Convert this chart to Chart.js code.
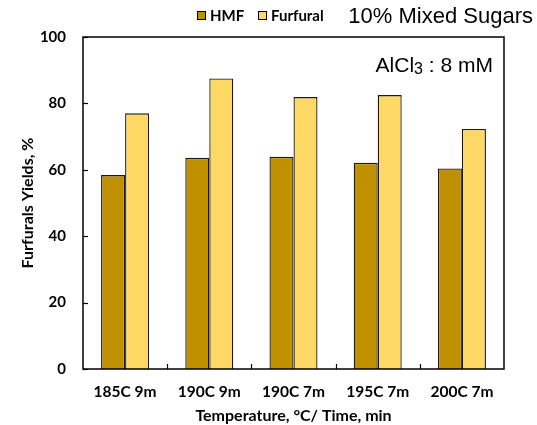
<!DOCTYPE html>
<html>
<head>
<meta charset="utf-8">
<script src="https://cdn.jsdelivr.net/npm/chart.js@4/dist/chart.umd.min.js"></script>
<style>
  html, body { margin: 0; padding: 0; background: #fff; }
  #wrap { width: 537px; height: 425px; position: relative; }
</style>
</head>
<body>
<div id="wrap"><canvas id="c" width="537" height="425"></canvas></div>
<script>
// Reaction conditions and furanic yields (%)
const categories = ['185C 9m', '190C 9m', '190C 7m', '195C 7m', '200C 7m'];
const hmfYield = [58.4, 63.6, 63.9, 62.1, 60.4];
const furfuralYield = [77.0, 87.5, 81.9, 82.5, 72.3];
const seriesNames = ['HMF', 'Furfural'];
const yTicks = [0, 20, 40, 60, 80, 100];

const boldFont = 'Lato, "Open Sans", sans-serif';

// Frame, inward tick marks, legend and annotations
const decor = {
  id: 'decor',
  afterDraw(chart) {
    const { ctx, chartArea: a, scales } = chart;
    ctx.save();
    ctx.strokeStyle = '#000';
    ctx.lineWidth = 1.5;
    ctx.strokeRect(a.left, a.top, a.right - a.left, a.bottom - a.top);

    ctx.lineWidth = 1.2;
    // y ticks pointing inward
    yTicks.forEach(v => {
      const y = Math.round(scales.y.getPixelForValue(v)) + 0.5;
      ctx.beginPath();
      ctx.moveTo(a.left, y);
      ctx.lineTo(a.left + 5, y);
      ctx.stroke();
    });
    // x ticks between categories, pointing inward
    for (let i = 1; i < categories.length; i++) {
      const x = Math.round((scales.x.getPixelForValue(i - 1) + scales.x.getPixelForValue(i)) / 2) + 0.5;
      ctx.beginPath();
      ctx.moveTo(x, a.bottom);
      ctx.lineTo(x, a.bottom - 5);
      ctx.stroke();
    }

    // legend
    ctx.font = 'bold 15px ' + boldFont;
    ctx.textBaseline = 'middle';
    const legendPos = [{ box: 197, text: 210 }, { box: 258, text: 271 }];
    chart.data.datasets.forEach((ds, i) => {
      const p = legendPos[i];
      ctx.fillStyle = ds.backgroundColor;
      ctx.fillRect(p.box, 11, 9, 9);
      ctx.lineWidth = 1;
      ctx.strokeStyle = '#000';
      ctx.strokeRect(p.box + 0.5, 11.5, 8, 8);
      ctx.fillStyle = '#000';
      ctx.textAlign = 'left';
      ctx.fillText(ds.label, p.text, 16);
    });

    // chart heading
    ctx.font = '22px "Liberation Sans", Arial, sans-serif';
    ctx.textAlign = 'right';
    ctx.fillText('10% Mixed Sugars', 533, 17);

    // catalyst note
    const mainFont = '21px "Liberation Sans", Arial, sans-serif';
    ctx.font = mainFont;
    const tailTxt = ' : 8 mM';
    const tailW = ctx.measureText(tailTxt).width;
    const xEnd = 493;
    ctx.fillText(tailTxt, xEnd, 66);
    ctx.font = '16px "Liberation Sans", Arial, sans-serif';
    const subW = ctx.measureText('3').width;
    ctx.fillText('3', xEnd - tailW, 70);
    ctx.font = mainFont;
    ctx.fillText('AlCl', xEnd - tailW - subW, 66);
    ctx.restore();
  }
};

new Chart(document.getElementById('c'), {
  type: 'bar',
  data: {
    labels: categories,
    datasets: [
      { label: seriesNames[0], data: hmfYield, backgroundColor: '#BF9000', borderColor: '#1a1a1a', borderWidth: 1.3 },
      { label: seriesNames[1], data: furfuralYield, backgroundColor: '#FFD966', borderColor: '#1a1a1a', borderWidth: 1.3 }
    ]
  },
  options: {
    responsive: false,
    animation: false,
    devicePixelRatio: 1,
    layout: { padding: { left: 0, right: 33, top: 37, bottom: 0 } },
    plugins: { legend: { display: false }, tooltip: { enabled: false } },
    datasets: { bar: { categoryPercentage: 0.57, barPercentage: 1.0 } },
    scales: {
      x: {
        grid: { display: false, drawTicks: false },
        border: { display: false },
        ticks: { color: '#000', font: { family: boldFont, size: 15.5, weight: 'bold' }, padding: 14, maxRotation: 0 },
        title: { display: true, text: 'Temperature, °C/ Time, min', color: '#000', font: { family: boldFont, size: 16, weight: 'bold' }, padding: { top: 0, bottom: 0 } },
        afterFit(s) { s.height = 56; }
      },
      y: {
        min: 0, max: 100,
        afterBuildTicks(s) { s.ticks = yTicks.map(v => ({ value: v })); },
        grid: { display: false, drawTicks: false },
        border: { display: false },
        ticks: { color: '#000', font: { family: boldFont, size: 15, weight: 'bold' }, padding: 17 },
        title: { display: true, text: 'Furfurals Yields, %', color: '#000', font: { family: boldFont, size: 16, weight: 'bold' }, padding: { top: 18, bottom: 0 } },
        afterFit(s) { s.width = 83; }
      }
    }
  },
  plugins: [decor]
});
</script>
</body>
</html>
